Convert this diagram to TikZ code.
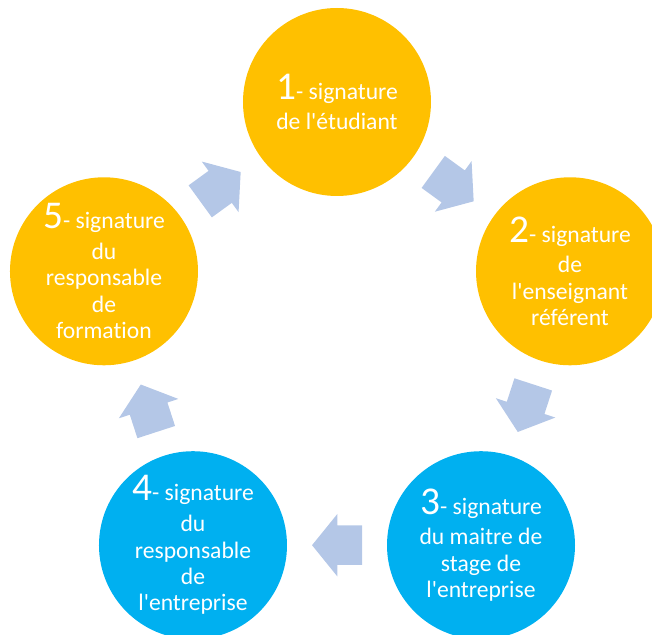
\documentclass[tikz,border=0pt]{standalone}
\usepackage{fontspec}
\setmainfont{Carlito}[Ligatures={TeX,NoCommon}]
\usetikzlibrary{shapes.arrows}
\usetikzlibrary{calc}
\definecolor{gold}{HTML}{FFC000}
\definecolor{sky}{HTML}{00B0F0}
\definecolor{pale}{HTML}{B4C7E7}
\newcommand{\grand}[1]{{\fontsize{28}{28}\selectfont #1}}
\tikzset{
  etape/.style={
    circle, minimum size=4.7cm, inner sep=0pt, text=white, align=center,
    font=\fontsize{16.8}{18.8}\selectfont,
  },
  fleche/.style={
    single arrow, fill=pale, inner xsep=0pt, inner ysep=0.4875cm,
    minimum height=1.25cm, minimum width=1.55cm,
    single arrow head extend=0.2875cm, single arrow tip angle=102,
  },
}
\begin{document}
\begin{tikzpicture}[scale=1]
          \useasboundingbox (-8.425,-7.2) rectangle (7.875,8.675);

          \node [etape, fill=gold] (etudiant) at (90:6.125)
                {\grand{1}- signature\\[3pt]de l\textquotesingle étudiant};
          \node [etape, fill=gold] (enseignant) at (18:6.125)
                {\grand{2}- signature\\[3pt]de\\l\textquotesingle enseignant\\référent};
          \node [etape, fill=sky] (maitre) at (-54:6.125)
                {\grand{3}- signature\\[3pt]du maitre de\\stage de\\l\textquotesingle entreprise};
          \node [etape, fill=sky] (entreprise) at (-126:6.125)
                {\grand{4}- signature\\[3pt]du\\responsable\\de\\l\textquotesingle entreprise};
          \node [etape, fill=gold] (formation) at (162:6.125)
                {\grand{5}- signature\\[3pt]du\\responsable\\de\\formation};

        \node [fleche, rotate=-36] (f12) at ($(etudiant)!0.472!(enseignant)$) {};
        \node [fleche, rotate=-108] (f23) at ($(enseignant)!0.472!(maitre)$) {};
        \node [fleche, rotate=180] (f34) at ($(maitre)!0.472!(entreprise)$) {};
        \node [fleche, rotate=108] (f45) at ($(entreprise)!0.472!(formation)$) {};
        \node [fleche, rotate=36] (f51) at ($(formation)!0.472!(etudiant)$) {};
    \end{tikzpicture}
\end{document}
